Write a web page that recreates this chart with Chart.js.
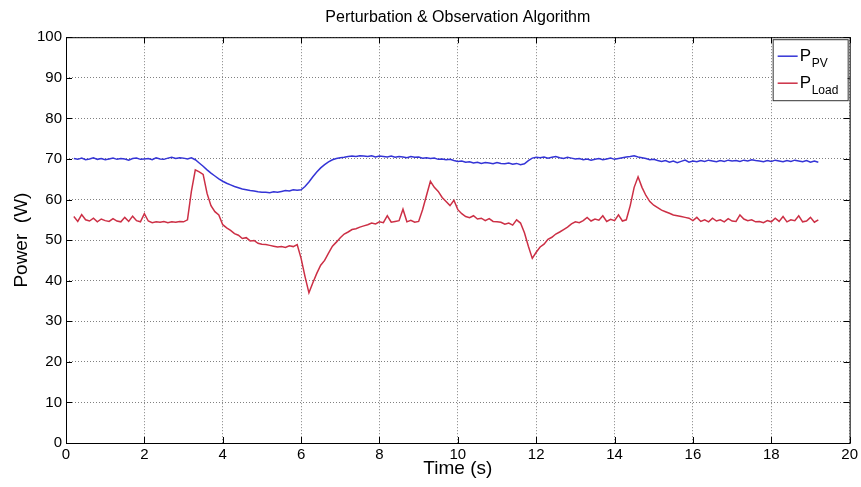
<!DOCTYPE html>
<html>
<head>
<meta charset="utf-8">
<script src="https://cdn.jsdelivr.net/npm/chart.js@4.4.1/dist/chart.umd.min.js"></script>
<style>
  html, body { margin: 0; padding: 0; background: #fff; }
  #wrap { width: 861px; height: 487px; position: relative; }
</style>
</head>
<body>
<div id="wrap"><canvas id="chart"></canvas></div>
<script>
// sampling of the recorded traces (s)
const startTime = 0.2;
const sampleStep = 0.1;

// P_PV (W), one value per sample from 0.2 s to 19.2 s
const pPV = [
  70.1, 69.9, 70.2, 69.8, 70.0, 70.3, 69.9, 70.1, 69.8, 70.0,
  70.2, 69.9, 70.1, 70.0, 69.7, 70.1, 70.2, 69.9, 70.0, 70.1,
  69.8, 70.3, 70.0, 69.9, 70.2, 70.4, 70.1, 70.3, 70.2, 70.0,
  70.3, 69.8, 69.0, 68.2, 67.3, 66.5, 65.8, 65.1, 64.5, 64.0,
  63.6, 63.2, 62.9, 62.6, 62.4, 62.2, 62.1, 61.9, 61.8, 61.8,
  61.7, 61.9, 61.8, 62.0, 62.2, 62.1, 62.4, 62.3, 62.4, 63.2,
  64.3, 65.6, 66.8, 67.8, 68.6, 69.3, 69.8, 70.1, 70.3, 70.4,
  70.6, 70.7, 70.6, 70.8, 70.7, 70.6, 70.8, 70.5, 70.7, 70.6,
  70.5, 70.7, 70.4, 70.6, 70.5, 70.3, 70.6, 70.4, 70.5, 70.2,
  70.3, 70.1, 70.2, 69.9, 70.0, 69.8, 69.9, 69.6, 69.4, 69.5,
  69.2, 69.3, 69.0, 69.2, 68.9, 69.1, 69.0, 68.8, 69.1, 68.9,
  68.8, 69.0, 68.7, 68.9, 68.6, 68.8, 69.6, 70.2, 70.4, 70.3,
  70.5, 70.2, 70.4, 70.6, 70.3, 70.1, 70.4, 70.2, 70.0, 70.1,
  69.8, 70.0, 69.7, 69.9, 70.1, 69.8, 70.0, 70.2, 69.9, 70.1,
  70.3, 70.5, 70.6, 70.8, 70.5, 70.3, 70.1, 69.8, 69.9, 69.6,
  69.4, 69.6, 69.2, 69.5, 69.1, 69.4, 69.7, 69.2, 69.5, 69.3,
  69.6, 69.4, 69.7, 69.5, 69.3, 69.6, 69.4, 69.7, 69.5, 69.6,
  69.4, 69.7, 69.5, 69.8, 69.6, 69.5, 69.3, 69.6, 69.4, 69.7,
  69.5, 69.3, 69.6, 69.4, 69.7, 69.5, 69.3, 69.6, 69.2, 69.5,
  69.2
];

// P_Load (W), same samples
const pLoad = [
  55.8, 54.6, 56.3, 55.0, 54.7, 55.4, 54.5, 55.2, 54.8, 54.6,
  55.3, 54.7, 54.5, 55.6, 54.6, 55.9, 54.8, 54.5, 56.5, 54.7,
  54.3, 54.5, 54.4, 54.6, 54.3, 54.5, 54.4, 54.6, 54.5, 55.0,
  62.0, 67.3, 66.8, 66.2, 61.5, 58.5, 57.0, 56.2, 53.8, 53.0,
  52.4, 51.6, 51.2, 50.4, 50.6, 49.8, 49.9, 49.2, 49.0, 48.9,
  48.7, 48.5, 48.3, 48.4, 48.2, 48.6, 48.4, 48.9, 45.5, 41.0,
  37.0, 39.5, 41.8, 43.8, 45.0, 46.8, 48.5, 49.5, 50.6, 51.5,
  52.0, 52.6, 52.8, 53.2, 53.5, 53.8, 54.2, 54.0, 54.5, 54.3,
  56.0, 54.4, 54.6, 54.8, 57.6, 54.5, 54.9, 54.4, 54.6, 57.5,
  61.0, 64.5, 63.0, 62.0, 60.5, 59.5, 58.5, 59.8, 57.5, 56.5,
  55.8, 55.5, 56.0, 55.2, 55.4, 54.8, 55.3, 54.6, 54.5, 54.4,
  53.9, 54.2, 53.7, 55.0, 54.2, 51.8, 48.5, 45.5, 47.0, 48.3,
  49.0, 50.2, 50.7, 51.5, 52.0, 52.6, 53.2, 54.0, 54.5, 54.3,
  54.8, 55.6, 54.7, 55.2, 54.9, 56.0, 54.6, 55.1, 54.8, 56.2,
  54.7, 55.0, 58.5, 63.0, 65.6, 63.0, 61.0, 59.5, 58.6, 58.0,
  57.4, 57.0, 56.6, 56.2, 56.0, 55.8, 55.6, 55.4, 54.8, 55.6,
  54.6, 55.0, 54.5, 55.4, 54.7, 55.0, 54.5, 55.3, 54.7, 54.6,
  56.2, 55.2, 54.8, 55.0, 54.5, 54.6, 54.3, 54.8, 54.5, 55.4,
  54.6, 55.8, 54.5, 55.0, 54.8, 56.0, 54.5, 54.7, 55.6, 54.4,
  55.0
];

const xTicks = [0, 2, 4, 6, 8, 10, 12, 14, 16, 18, 20];
const yTicks = [0, 10, 20, 30, 40, 50, 60, 70, 80, 90, 100];
const seriesNames = ['P', 'P'];
const seriesSubs = ['PV', 'Load'];
const seriesColors = ['#3434d6', '#cc2f45'];

const time = pPV.map((v, i) => +(startTime + i * sampleStep).toFixed(2));
const toPoints = arr => arr.map((v, i) => ({ x: time[i], y: v }));

// matlab-style frame, inward ticks and legend with subscripts
const matlabBox = {
  id: 'matlabBox',
  afterDraw(chart) {
    const { ctx, chartArea: a, scales } = chart;
    ctx.save();
    ctx.strokeStyle = '#000';
    ctx.lineWidth = 1;
    ctx.strokeRect(a.left + 0.5, a.top + 0.5, a.right - a.left, a.bottom - a.top);
    ctx.beginPath();
    xTicks.forEach(t => {
      const px = Math.round(scales.x.getPixelForValue(t)) + 0.5;
      ctx.moveTo(px, a.bottom); ctx.lineTo(px, a.bottom - 6);
      ctx.moveTo(px, a.top); ctx.lineTo(px, a.top + 6);
    });
    yTicks.forEach(t => {
      const py = Math.round(scales.y.getPixelForValue(t)) + 0.5;
      ctx.moveTo(a.left, py); ctx.lineTo(a.left + 6, py);
      ctx.moveTo(a.right, py); ctx.lineTo(a.right - 6, py);
    });
    ctx.stroke();

    // legend
    const lx = a.right - 77, ly = a.top + 2, lw = 75, lh = 61;
    ctx.fillStyle = '#fff';
    ctx.fillRect(lx, ly, lw, lh);
    ctx.strokeStyle = '#333';
    ctx.strokeRect(lx + 0.5, ly + 0.5, lw, lh);
    seriesNames.forEach((name, i) => {
      const cy = ly + 17 + i * 27;
      ctx.strokeStyle = seriesColors[i];
      ctx.lineWidth = 1.5;
      ctx.beginPath();
      ctx.moveTo(lx + 5, cy); ctx.lineTo(lx + 25, cy);
      ctx.stroke();
      ctx.fillStyle = '#000';
      ctx.textBaseline = 'alphabetic';
      ctx.textAlign = 'left';
      ctx.font = '17px "Liberation Sans", Arial, sans-serif';
      ctx.fillText(name, lx + 27, cy + 5);
      ctx.font = '12px "Liberation Sans", Arial, sans-serif';
      ctx.fillText(seriesSubs[i], lx + 39, cy + 11);
    });
    ctx.restore();
  }
};

new Chart(document.getElementById('chart'), {
  type: 'line',
  data: {
    datasets: [
      {
        label: 'P_PV',
        data: toPoints(pPV),
        borderColor: seriesColors[0],
        borderWidth: 1.5,
        pointRadius: 0,
        fill: false,
        tension: 0,
      },
      {
        label: 'P_Load',
        data: toPoints(pLoad),
        borderColor: seriesColors[1],
        borderWidth: 1.5,
        pointRadius: 0,
        fill: false,
        tension: 0,
      },
    ],
  },
  options: {
    responsive: true,
    maintainAspectRatio: false,
    animation: false,
    layout: { padding: { top: 0, right: 10, bottom: 0, left: 0 } },
    plugins: {
      legend: { display: false },
      tooltip: { enabled: false },
      title: {
        display: true,
        fullSize: false,
        text: 'Perturbation & Observation Algorithm',
        color: '#000',
        font: { family: '"Liberation Sans", Arial, sans-serif', size: 16, weight: 'normal' },
        padding: { top: 8, bottom: 10 },
      },
    },
    scales: {
      x: {
        type: 'linear',
        min: 0,
        max: 20,
        afterFit: (scale) => { scale.height = 44; },
        afterBuildTicks: (scale) => { scale.ticks = xTicks.map(v => ({ value: v })); },
        ticks: {
          color: '#000',
          padding: 3,
          maxRotation: 0,
          font: { family: '"Liberation Sans", Arial, sans-serif', size: 15 },
        },
        grid: { color: '#808080', borderDash: [1, 2], drawTicks: false },
        border: { display: false, dash: [1, 2] },
        title: {
          display: true,
          text: 'Time (s)',
          color: '#000',
          font: { family: '"Liberation Sans", Arial, sans-serif', size: 19 },
          padding: { top: 0, bottom: 7 },
        },
      },
      y: {
        min: 0,
        max: 100,
        afterFit: (scale) => { scale.width = 66; },
        afterBuildTicks: (scale) => { scale.ticks = yTicks.map(v => ({ value: v })); },
        ticks: {
          color: '#000',
          padding: 4,
          font: { family: '"Liberation Sans", Arial, sans-serif', size: 15 },
        },
        grid: { color: '#808080', borderDash: [1, 2], drawTicks: false },
        border: { display: false, dash: [1, 2] },
        title: {
          display: true,
          text: 'Power  (W)',
          color: '#000',
          font: { family: '"Liberation Sans", Arial, sans-serif', size: 19 },
          padding: { top: 10, bottom: 0 },
        },
      },
    },
  },
  plugins: [matlabBox],
});
</script>
</body>
</html>
